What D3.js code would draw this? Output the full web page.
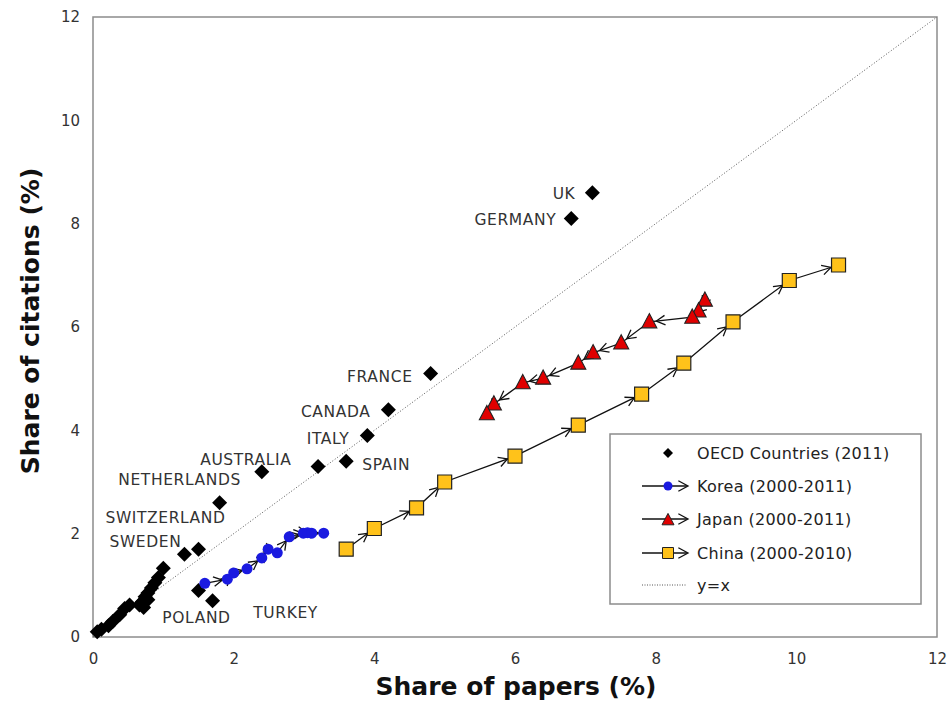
<!DOCTYPE html>
<html>
<head>
<meta charset="utf-8">
<script src="https://cdn.jsdelivr.net/npm/d3@7"></script>
<style>
  html, body { margin: 0; padding: 0; background: #fff; }
  svg { display: block; }
  text { font-family: "DejaVu Sans", sans-serif; }
</style>
</head>
<body>
<svg id="chart" width="951" height="702"></svg>
<script>
// OECD countries, 2011: share of papers (%) vs share of citations (%)
const oecdNames = ["UK", "GERMANY", "FRANCE", "CANADA", "ITALY", "SPAIN", "", "AUSTRALIA",
  "NETHERLANDS", "SWITZERLAND", "SWEDEN", "POLAND", "TURKEY",
  "", "", "", "", "", "", "", "", "", "", "", "", "", "", "", "", ""];
const oecdPapers = [7.1, 6.8, 4.8, 4.2, 3.9, 3.6, 3.2, 2.4,
  1.8, 1.5, 1.3, 1.5, 1.7,
  1.0, 0.93, 0.88, 0.83, 0.78, 0.74, 0.70, 0.72, 0.66, 0.52, 0.45, 0.38, 0.28, 0.22, 0.12, 0.06, 0.78];
const oecdCitations = [8.6, 8.1, 5.1, 4.4, 3.9, 3.4, 3.3, 3.2,
  2.6, 1.7, 1.6, 0.9, 0.7,
  1.33, 1.15, 1.05, 0.95, 0.85, 0.78, 0.68, 0.57, 0.62, 0.62, 0.55, 0.43, 0.30, 0.22, 0.15, 0.10, 0.72];

// Korea 2000-2011
const koreaPapers = [1.59, 1.91, 2.0, 2.19, 2.40, 2.49, 2.62, 2.79, 2.99, 3.05, 3.11, 3.28];
const koreaCitations = [1.04, 1.12, 1.24, 1.32, 1.53, 1.70, 1.63, 1.94, 2.01, 2.02, 2.01, 2.01];

// Japan 2000-2011
const japanPapers = [8.70, 8.61, 8.52, 7.91, 7.51, 7.11, 6.90, 6.40, 6.11, 5.70, 5.60];
const japanCitations = [6.52, 6.31, 6.19, 6.10, 5.69, 5.50, 5.30, 5.01, 4.92, 4.51, 4.32];

// China 2000-2010
const chinaPapers = [3.6, 4.0, 4.6, 5.0, 6.0, 6.9, 7.8, 8.4, 9.1, 9.9, 10.6];
const chinaCitations = [1.7, 2.1, 2.5, 3.0, 3.5, 4.1, 4.7, 5.3, 6.1, 6.9, 7.2];

const tickValues = [0, 2, 4, 6, 8, 10, 12];
const legendLabels = ["OECD Countries (2011)", "Korea (2000-2011)", "Japan (2000-2011)", "China (2000-2010)", "y=x"];
const xTitle = "Share of papers (%)";
const yTitle = "Share of citations (%)";

const svg = d3.select("#chart");
const plot = { left: 93, right: 937, top: 17, bottom: 637 };

const x = d3.scaleLinear().domain([0, 12]).range([plot.left, plot.right]);
const y = d3.scaleLinear().domain([0, 12]).range([plot.bottom, plot.top]);

// frame of the plotting area
svg.append("rect")
  .attr("x", plot.left).attr("y", plot.top)
  .attr("width", plot.right - plot.left).attr("height", plot.bottom - plot.top)
  .attr("fill", "none").attr("stroke", "#8c8c8c").attr("stroke-width", 1.5);

// axes: labels only, no tick marks
const xAxis = d3.axisBottom(x).tickValues(tickValues).tickSize(0).tickPadding(16);
const yAxis = d3.axisLeft(y).tickValues(tickValues).tickSize(0).tickPadding(13);
const gx = svg.append("g").attr("transform", `translate(0,${plot.bottom})`).call(xAxis);
const gy = svg.append("g").attr("transform", `translate(${plot.left},0)`).call(yAxis);
[gx, gy].forEach(g => {
  g.select(".domain").remove();
  g.selectAll("text").attr("font-family", "DejaVu Sans, sans-serif")
    .attr("font-size", 15).attr("fill", "#333");
});

// y = x reference line
svg.append("line")
  .attr("x1", x(0)).attr("y1", y(0)).attr("x2", x(12)).attr("y2", y(12))
  .attr("stroke", "#555").attr("stroke-width", 1).attr("stroke-dasharray", "1,2");

// marker shapes
const diamond = r => `M0,${-r}L${r},0L0,${r}L${-r},0Z`;
const square = s => `M${-s/2},${-s/2}h${s}v${s}h${-s}Z`;
const triangle = s => `M0,${-s*0.55}L${s/2},${s*0.4}L${-s/2},${s*0.4}Z`;

// open arrowhead drawn just short of the target point
function arrowPath(x1, y1, x2, y2, gap, len) {
  const a = Math.atan2(y2 - y1, x2 - x1);
  const tx = x2 - gap * Math.cos(a), ty = y2 - gap * Math.sin(a);
  const w = 0.5;
  const p1 = [tx - len * Math.cos(a - w), ty - len * Math.sin(a - w)];
  const p2 = [tx - len * Math.cos(a + w), ty - len * Math.sin(a + w)];
  return `M${p1[0]},${p1[1]}L${tx},${ty}L${p2[0]},${p2[1]}`;
}

function drawTrajectory(xs, ys, gap) {
  const pts = xs.map((v, i) => [x(v), y(ys[i])]);
  const g = svg.append("g");
  g.append("path")
    .attr("d", d3.line()(pts))
    .attr("fill", "none").attr("stroke", "#111").attr("stroke-width", 1.3);
  const segs = d3.pairs(pts);
  g.selectAll("path.arrow").data(segs).join("path")
    .attr("class", "arrow")
    .attr("d", ([p, q]) => arrowPath(p[0], p[1], q[0], q[1], gap, 10))
    .attr("fill", "none").attr("stroke", "#111").attr("stroke-width", 1.3);
  return { g, pts };
}

// China trajectory
const china = drawTrajectory(chinaPapers, chinaCitations, 8);
china.g.selectAll("path.mk").data(china.pts).join("path")
  .attr("class", "mk")
  .attr("transform", d => `translate(${d[0]},${d[1]})`)
  .attr("d", square(14))
  .attr("fill", "#FFC21A").attr("stroke", "#222").attr("stroke-width", 1.2);

// Japan trajectory
const japan = drawTrajectory(japanPapers, japanCitations, 7);
japan.g.selectAll("path.mk").data(japan.pts).join("path")
  .attr("class", "mk")
  .attr("transform", d => `translate(${d[0]},${d[1]})`)
  .attr("d", triangle(15))
  .attr("fill", "#E00000").attr("stroke", "#222").attr("stroke-width", 1.1);

// OECD countries
svg.append("g").selectAll("path").data(oecdPapers).join("path")
  .attr("transform", (d, i) => `translate(${x(d)},${y(oecdCitations[i])})`)
  .attr("d", diamond(7.5))
  .attr("fill", "#000");

// Korea trajectory
const korea = drawTrajectory(koreaPapers, koreaCitations, 5);
korea.g.selectAll("circle").data(korea.pts).join("circle")
  .attr("cx", d => d[0]).attr("cy", d => d[1]).attr("r", 5.5)
  .attr("fill", "#1a1ae0");

// country labels, placed relative to their marker
const labelPlacement = {
  "UK": [-17, 6, "end"], "GERMANY": [-15, 6, "end"], "FRANCE": [-18, 8, "end"],
  "CANADA": [-18, 7, "end"], "ITALY": [-18, 8, "end"], "SPAIN": [16, 9, "start"],
  "AUSTRALIA": [-16, -7, "middle"], "NETHERLANDS": [-40, -18, "middle"],
  "SWITZERLAND": [-33, -26, "middle"], "SWEDEN": [-39, -7, "middle"],
  "POLAND": [-2, 32, "middle"], "TURKEY": [73, 17, "middle"]
};
svg.append("g").selectAll("text")
  .data(oecdNames.map((n, i) => ({ n, i })).filter(d => d.n))
  .join("text")
  .attr("x", d => x(oecdPapers[d.i]) + labelPlacement[d.n][0])
  .attr("y", d => y(oecdCitations[d.i]) + labelPlacement[d.n][1])
  .attr("text-anchor", d => labelPlacement[d.n][2])
  .attr("font-size", 15.5).attr("letter-spacing", 0.6).attr("fill", "#333")
  .text(d => d.n);

// legend
const lg = svg.append("g").attr("transform", "translate(610,434)");
lg.append("rect").attr("width", 311).attr("height", 170)
  .attr("fill", "#fff").attr("stroke", "#8c8c8c").attr("stroke-width", 1.5);
const rowY = [19, 52, 85, 119, 151];
legendLabels.forEach((t, i) => {
  lg.append("text").attr("x", 87).attr("y", rowY[i] + 6)
    .attr("font-size", 16).attr("letter-spacing", 0.3).attr("fill", "#222").text(t);
});
lg.append("path").attr("transform", `translate(58,${rowY[0]})`).attr("d", diamond(5)).attr("fill", "#000");
[1, 2, 3].forEach(i => {
  lg.append("line").attr("x1", 32).attr("x2", 77).attr("y1", rowY[i]).attr("y2", rowY[i])
    .attr("stroke", "#111").attr("stroke-width", 1.3);
  lg.append("path").attr("d", arrowPath(32, rowY[i], 78, rowY[i], 0, 11))
    .attr("fill", "none").attr("stroke", "#111").attr("stroke-width", 1.3);
});
lg.append("circle").attr("cx", 58).attr("cy", rowY[1]).attr("r", 4.5).attr("fill", "#1a1ae0");
lg.append("path").attr("transform", `translate(58,${rowY[2] + 1})`).attr("d", triangle(12))
  .attr("fill", "#E00000").attr("stroke", "#222").attr("stroke-width", 1);
lg.append("path").attr("transform", `translate(58,${rowY[3]})`).attr("d", square(11))
  .attr("fill", "#FFC21A").attr("stroke", "#222").attr("stroke-width", 1);
lg.append("line").attr("x1", 32).attr("x2", 76).attr("y1", rowY[4]).attr("y2", rowY[4])
  .attr("stroke", "#555").attr("stroke-width", 1).attr("stroke-dasharray", "1,1.5");

// axis titles
svg.append("text").attr("x", 516).attr("y", 695).attr("text-anchor", "middle")
  .attr("font-size", 25).attr("font-weight", "bold").attr("fill", "#111").text(xTitle);
svg.append("text").attr("transform", "translate(39,321) rotate(-90)").attr("text-anchor", "middle")
  .attr("font-size", 25).attr("font-weight", "bold").attr("fill", "#111").text(yTitle);
</script>
</body>
</html>
